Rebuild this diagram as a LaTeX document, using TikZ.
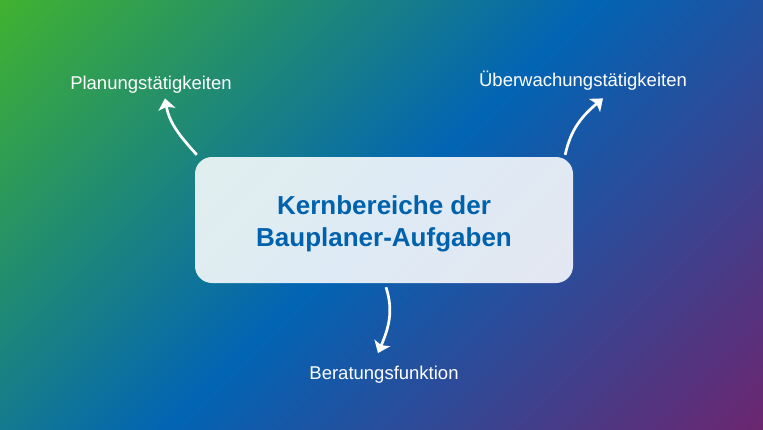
\documentclass[tikz,border=0pt]{standalone}
\usepackage{fontspec}
\setmainfont{Liberation Sans}
\usetikzlibrary{arrows.meta,positioning}

\definecolor{bggreen}{RGB}{64,178,48}
\definecolor{bgblue}{RGB}{2,100,180}
\definecolor{bgpurple}{RGB}{108,38,112}
\definecolor{titleblue}{RGB}{0,98,172}

\pgfdeclarehorizontalshading{bgfade}{100bp}{color(0bp)=(bggreen); color(25bp)=(bggreen); color(50bp)=(bgblue); color(75bp)=(bgpurple); color(100bp)=(bgpurple)}

\tikzset{
  corebox/.style={rounded corners=17pt, fill=white, fill opacity=0.87, text opacity=1,
    text=titleblue, font=\bfseries\fontsize{26}{32}\selectfont, align=center,
    minimum width=378pt, minimum height=126pt, inner sep=0pt},
  tasklabel/.style={text=white, font=\fontsize{18.5}{22}\selectfont, anchor=base},
  taskarrow/.style={white, line width=2.7pt, -{Stealth[length=11pt,width=17pt,inset=2.5pt]}},
}

\begin{document}
\begin{tikzpicture}[x=1pt,y=-1pt]
    \useasboundingbox (0,0) rectangle (763,429);

    % gradient background
    \begin{scope}
        \clip (0,0) rectangle (763,429);
        \shade[shading=bgfade, shading angle=-45] (-40,-207) rectangle (803,636);
    \end{scope}

    \node[corebox] (core) at (384,220) {\rule{0pt}{26pt}Kernbereiche der\\Bauplaner-Aufgaben};

    \node[tasklabel] (plan) at (151,89) {Planungstätigkeiten};
    \node[tasklabel] (watch) at (583,86) {Überwachungstätigkeiten};
    \node[tasklabel] (advice) at (384,379) {Beratungsfunktion};

    % arrows out of the box
    \draw[taskarrow] ([xshift=2pt,yshift=2pt]core.north west) to[out=132, in=-80] ([xshift=14pt,yshift=-2pt]plan.south);
    \draw[taskarrow] ([xshift=-8pt,yshift=2pt]core.north east) to[out=78, in=220] ([xshift=20pt,yshift=-5pt]watch.south);
    \draw[taskarrow] ([xshift=2pt,yshift=-4pt]core.south) to[out=-72, in=67] ([xshift=-6pt,yshift=9pt]advice.north);
\end{tikzpicture}
\end{document}
